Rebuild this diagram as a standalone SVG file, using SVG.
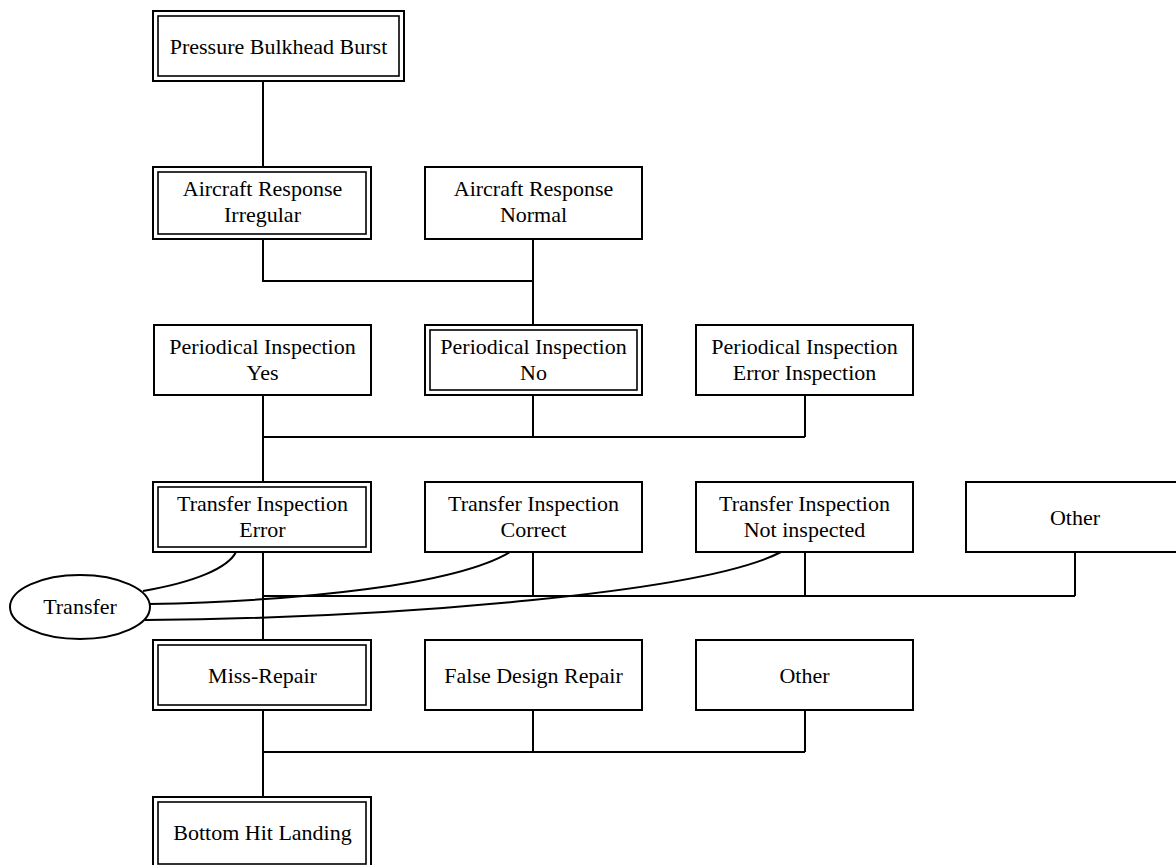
<svg xmlns="http://www.w3.org/2000/svg" width="1176" height="865" viewBox="0 0 1176 865">
<style>
.box{fill:#fff;stroke:#000;stroke-width:2}
.in{fill:none;stroke:#000;stroke-width:1.6}
.t{font-family:"Liberation Serif","Times New Roman",serif;font-size:22px;fill:#000;text-anchor:middle}
.c{fill:none;stroke:#000;stroke-width:2}
</style>
<rect width="1176" height="865" fill="#fff"/>
<g id="connectors">
<path class="c" d="M263,81V167"/>
<path class="c" d="M263,239V281H533M533,239V325"/>
<path class="c" d="M263,395V482M533,395V437M805,395V437M263,437H805"/>
<path class="c" d="M263,552V640M533,552V596M805,552V596M1075,552V596M263,596H1075"/>
<path class="c" d="M263,710V797M533,710V752M805,710V752M263,752H805"/>
<path class="c" d="M143,591C195,582 228,568 236,552"/>
<path class="c" d="M149,604C300,601 455,585 510,552"/>
<path class="c" d="M145,620C400,618 705,592 781,552"/>
</g>
<g id="n1"><rect class="box" x="153" y="11" width="251" height="70"/><rect class="in" x="158" y="16" width="241" height="60"/><text class="t" x="278.5" y="54">Pressure Bulkhead Burst</text></g>
<g id="n2"><rect class="box" x="153" y="167" width="218" height="72"/><rect class="in" x="158" y="172" width="208" height="62"/><text class="t" x="262.5" y="196">Aircraft Response</text><text class="t" x="262.5" y="222">Irregular</text></g>
<g id="n3"><rect class="box" x="425" y="167" width="217" height="72"/><text class="t" x="533.5" y="196">Aircraft Response</text><text class="t" x="533.5" y="222">Normal</text></g>
<g id="n4"><rect class="box" x="154" y="325" width="217" height="70"/><text class="t" x="262.5" y="354">Periodical Inspection</text><text class="t" x="262.5" y="380">Yes</text></g>
<g id="n5"><rect class="box" x="425" y="325" width="217" height="70"/><rect class="in" x="430" y="330" width="207" height="60"/><text class="t" x="533.5" y="354">Periodical Inspection</text><text class="t" x="533.5" y="380">No</text></g>
<g id="n6"><rect class="box" x="696" y="325" width="217" height="70"/><text class="t" x="804.5" y="354">Periodical Inspection</text><text class="t" x="804.5" y="380">Error Inspection</text></g>
<g id="n7"><rect class="box" x="153" y="482" width="218" height="70"/><rect class="in" x="158" y="487" width="208" height="60"/><text class="t" x="262.5" y="511">Transfer Inspection</text><text class="t" x="262.5" y="537">Error</text></g>
<g id="n8"><rect class="box" x="425" y="482" width="217" height="70"/><text class="t" x="533.5" y="511">Transfer Inspection</text><text class="t" x="533.5" y="537">Correct</text></g>
<g id="n9"><rect class="box" x="696" y="482" width="217" height="70"/><text class="t" x="804.5" y="511">Transfer Inspection</text><text class="t" x="804.5" y="537">Not inspected</text></g>
<g id="n10"><rect class="box" x="966" y="482" width="218" height="70"/><text class="t" x="1075" y="525">Other</text></g>
<g id="n11"><ellipse class="box" cx="80" cy="607" rx="70" ry="32"/><text class="t" x="80" y="614">Transfer</text></g>
<g id="n12"><rect class="box" x="153" y="640" width="218" height="70"/><rect class="in" x="158" y="645" width="208" height="60"/><text class="t" x="262.5" y="683">Miss-Repair</text></g>
<g id="n13"><rect class="box" x="425" y="640" width="217" height="70"/><text class="t" x="533.5" y="683">False Design Repair</text></g>
<g id="n14"><rect class="box" x="696" y="640" width="217" height="70"/><text class="t" x="804.5" y="683">Other</text></g>
<g id="n15"><rect class="box" x="153" y="797" width="218" height="72"/><rect class="in" x="158" y="802" width="208" height="62"/><text class="t" x="262.5" y="840">Bottom Hit Landing</text></g>
</svg>
